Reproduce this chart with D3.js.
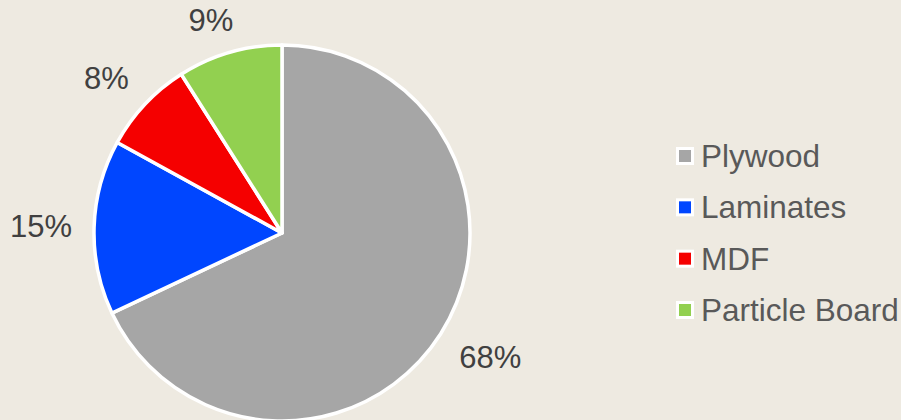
<!DOCTYPE html>
<html lang="en">
  <head>
    <meta charset="utf-8">
    <title>Board Share Pie</title>
    <style>
      html, body { margin: 0; padding: 0; background: #EEEAE1; }
      body { font-family: "Liberation Sans", Arial, sans-serif; }
      svg { display: block; }
      .lbl { fill: #404040; font-size: 31px; }
      .leg text { fill: #595959; font-size: 31.5px; }
    </style>
  </head>
  <body>
    <div id="chart"></div>
    <script src="https://d3js.org/d3.v7.min.js"></script>
    <script>
      // data
      const categories = ['Plywood', 'Laminates', 'MDF', 'Particle Board'];
      const shares = [68, 15, 8, 9];
      const colors = ['#A6A6A6', '#0046FF', '#F50000', '#92D050'];

      const w = 901, h = 420;
      const cx = 282, cy = 233, radius = 188;

      const svg = d3.select('#chart').append('svg')
        .attr('width', w).attr('height', h);

      const data = categories.map((c, i) => ({ name: c, value: shares[i], color: colors[i] }));

      const pie = d3.pie().sort(null).value(d => d.value);
      const arc = d3.arc().innerRadius(0).outerRadius(radius);
      const arcs = pie(data);

      const g = svg.append('g').attr('transform', 'translate(' + cx + ',' + cy + ')');

      g.selectAll('path')
        .data(arcs)
        .enter()
        .append('path')
        .attr('d', arc)
        .attr('fill', d => d.data.color)
        .attr('stroke', '#fff')
        .attr('stroke-width', 3.5)
        .attr('stroke-linejoin', 'round');

      // labels sit just outside the pie, pushed out by (roughly) half their box
      const labelR = radius + 22;
      const halfCap = 11;
      const clamp = v => Math.max(-1, Math.min(1, v * 2));
      g.selectAll('text.lbl')
        .data(arcs)
        .enter()
        .append('text')
        .attr('class', 'lbl')
        .attr('text-anchor', 'middle')
        .text(d => d.data.value + '%')
        .each(function (d) {
          const a = (d.startAngle + d.endAngle) / 2;
          const hw = this.getComputedTextLength() / 2;
          const sx = Math.sin(a), sy = -Math.cos(a);
          const x = sx * labelR + clamp(sx) * hw;
          const y = sy * labelR + clamp(sy) * halfCap;
          d3.select(this).attr('x', x).attr('y', y + halfCap);
        });

      // legend
      const ly = d3.scalePoint().domain(categories).range([156, 310]);
      const leg = svg.append('g').attr('class', 'leg');
      const item = leg.selectAll('g')
        .data(data)
        .enter()
        .append('g')
        .attr('transform', d => 'translate(685,' + ly(d.name) + ')');

      item.append('rect')
        .attr('x', -9).attr('y', -9)
        .attr('width', 18).attr('height', 18)
        .attr('fill', '#fff');
      item.append('rect')
        .attr('x', -6).attr('y', -6)
        .attr('width', 12).attr('height', 12)
        .attr('fill', d => d.color);
      item.append('text')
        .attr('x', 16)
        .attr('y', 11)
        .text(d => d.name);
    </script>
  </body>
</html>
